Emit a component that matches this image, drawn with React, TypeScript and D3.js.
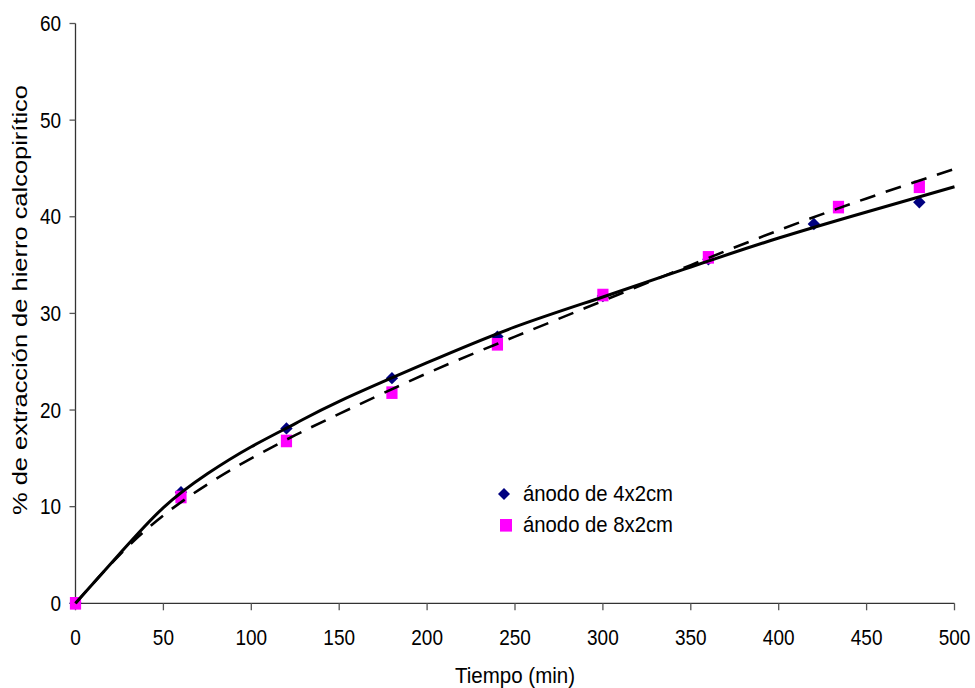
import React from "react";
import * as d3 from "d3";

// Measured extraction (%) over time (min)
const timeA = [0, 60, 120, 180, 240, 300, 360, 420, 480];
const extractionA = [0, 11.5, 18.1, 23.3, 27.6, 31.8, 35.6, 39.25, 41.5];
const timeB = [0, 60, 120, 180, 240, 300, 360, 434, 480];
const extractionB = [0, 11.0, 16.8, 21.8, 26.8, 31.9, 35.8, 41.0, 43.1];

// Trend curves (solid: 4x2cm anode, dashed: 8x2cm anode)
const trendX = [0, 25, 50, 75, 100, 125, 150, 200, 250, 300, 350, 400, 450, 500];
const trendA = [0, 5.1, 9.9, 13.4, 16.2, 18.6, 20.9, 24.9, 28.6, 31.7, 34.8, 37.8, 40.5, 43.1];
const trendB = [0, 5.0, 9.1, 12.3, 15.0, 17.4, 19.6, 23.8, 27.6, 31.3, 35.0, 38.6, 41.9, 44.95];

const xTicks = [0, 50, 100, 150, 200, 250, 300, 350, 400, 450, 500];
const yTicks = [0, 10, 20, 30, 40, 50, 60];

const legendLabels = ["ánodo de 4x2cm", "ánodo de 8x2cm"];
const xTitle = "Tiempo (min)";
const yTitle = "% de extracción de hierro calcopirítico";

const W = 975;
const H = 688;
const FONT = "'Liberation Sans', Arial, sans-serif";
const STRETCH = 1.12;

// Text placed at (x, y) with slightly taller glyphs
function Label(props: {
  x: number;
  y: number;
  size: number;
  anchor?: "start" | "middle" | "end";
  dy?: string;
  length?: number;
  children: React.ReactNode;
}) {
  const { x, y, size, anchor = "start", dy, length, children } = props;
  return (
    <text
      transform={`translate(${x},${y}) scale(1,${STRETCH})`}
      textAnchor={anchor}
      fontSize={size}
      dy={dy}
      fill="#000"
      textLength={length}
      lengthAdjust={length ? "spacingAndGlyphs" : undefined}
    >
      {children}
    </text>
  );
}

export default function App() {
  const x = d3.scaleLinear().domain([0, 500]).range([75.5, 954.5]);
  const y = d3.scaleLinear().domain([0, 60]).range([603.3, 23.5]);

  const line = d3
    .line<[number, number]>()
    .x((d) => x(d[0]))
    .y((d) => y(d[1]))
    .curve(d3.curveNatural);

  const pathA = line(trendX.map((t, i) => [t, trendA[i]]) as [number, number][]) || "";
  const pathB = line(trendX.map((t, i) => [t, trendB[i]]) as [number, number][]) || "";

  const diamond = (cx: number, cy: number, r: number) =>
    `M${cx},${cy - r}L${cx + r},${cy}L${cx},${cy + r}L${cx - r},${cy}Z`;

  const x0 = x(0);
  const y0 = y(0);

  return (
    <svg
      width={W}
      height={H}
      style={{ position: "absolute", left: 0, top: 0, background: "#fff" }}
      fontFamily={FONT}
    >
      <rect width={W} height={H} fill="#fff" />

      {/* axes */}
      <line x1={x0} x2={x0} y1={y(60)} y2={y0} stroke="#333" strokeWidth={1.3} />
      <line x1={x0} x2={x(500)} y1={y0} y2={y0} stroke="#333" strokeWidth={1.3} />

      {yTicks.map((t) => (
        <g key={"y" + t}>
          <line x1={x0 - 6} x2={x0} y1={y(t)} y2={y(t)} stroke="#555" strokeWidth={1.3} />
          <Label x={61} y={y(t) + 7.6} size={19} anchor="end">
            {t}
          </Label>
        </g>
      ))}
      {xTicks.map((t) => (
        <g key={"x" + t}>
          <line x1={x(t)} x2={x(t)} y1={y0} y2={y0 + 7} stroke="#555" strokeWidth={1.3} />
          <Label x={x(t)} y={645} size={19} anchor="middle">
            {t}
          </Label>
        </g>
      ))}

      <Label x={515} y={683} size={20} anchor="middle" length={120}>
        {xTitle}
      </Label>
      <text
        transform={`translate(27,300) rotate(-90)`}
        textAnchor="middle"
        fontSize={20}
        fill="#000"
        textLength={430}
        lengthAdjust="spacingAndGlyphs"
      >
        {yTitle}
      </text>

      {/* data markers */}
      {timeA.map((t, i) => (
        <path key={"a" + i} d={diamond(x(t), y(extractionA[i]), 6.2)} fill="#000080" />
      ))}
      {timeB.map((t, i) => (
        <rect
          key={"b" + i}
          x={x(t) - 5.6}
          y={y(extractionB[i]) - 6.3}
          width={11.2}
          height={12.6}
          fill="#ff00ff"
        />
      ))}

      {/* trend curves */}
      <path d={pathB} fill="none" stroke="#000" strokeWidth={2.6} strokeDasharray="16,11" />
      <path d={pathA} fill="none" stroke="#000" strokeWidth={3} />

      {/* legend */}
      <path d={diamond(504, 494, 6)} fill="#000080" />
      <Label x={523} y={501} size={20} length={150}>
        {legendLabels[0]}
      </Label>
      <rect x={500} y={519} width={12} height={12.6} fill="#ff00ff" />
      <Label x={523} y={532} size={20} length={150}>
        {legendLabels[1]}
      </Label>
    </svg>
  );
}
